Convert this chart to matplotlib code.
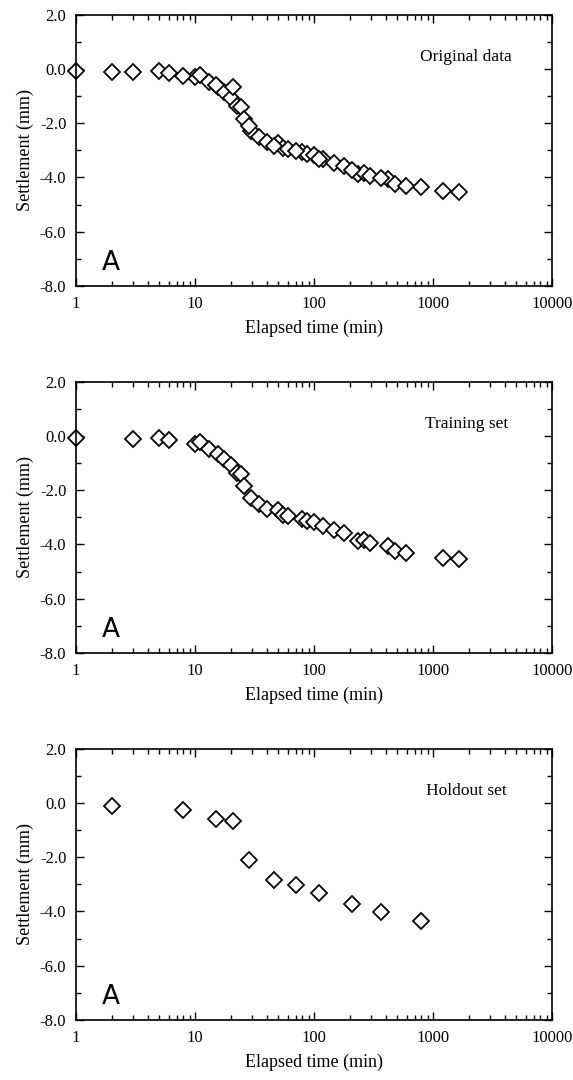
import numpy as np
import matplotlib
matplotlib.use("Agg")
import matplotlib.pyplot as plt
from matplotlib.ticker import FixedLocator, FuncFormatter, LogLocator, NullFormatter

plt.rcParams["font.family"] = ["Liberation Serif", "DejaVu Serif"]
plt.rcParams["axes.unicode_minus"] = False

# training set (elapsed time in min, settlement in mm)
train_t = [1, 3, 5, 6, 10, 11, 13, 15.5, 17.7, 20, 22.5, 24.5, 25.7, 29.5, 34.5,
           40, 50, 55, 60, 79, 88, 100, 120, 148, 180, 234, 262, 298, 415, 475,
           595, 1205, 1670]
train_s = [-0.06, -0.11, -0.09, -0.15, -0.30, -0.22, -0.47, -0.67, -0.85, -1.08,
           -1.36, -1.40, -1.83, -2.27, -2.50, -2.68, -2.72, -2.90, -2.96, -3.06,
           -3.12, -3.16, -3.33, -3.45, -3.58, -3.86, -3.82, -3.93, -4.06, -4.24,
           -4.32, -4.51, -4.55]

# holdout set
hold_t = [2, 8, 15, 21, 28.5, 46, 71, 111, 210, 365, 800]
hold_s = [-0.10, -0.25, -0.60, -0.66, -2.10, -2.83, -3.01, -3.31, -3.71, -4.02, -4.36]

# original data = training + holdout
orig_t = train_t + hold_t
orig_s = train_s + hold_s

panels = [
    ("Original data", orig_t, orig_s, 0.7352),
    ("Training set", train_t, train_s, 0.3954),
    ("Holdout set", hold_t, hold_s, 0.0556),
]

fig = plt.figure(figsize=(5.73, 10.8), dpi=100)

for title, t, s, bottom in panels:
    ax = fig.add_axes([0.1326, bottom, 0.8307, 0.2512])
    ax.plot(t, s, linestyle="none", marker="D", markersize=7.8, clip_on=False,
            markerfacecolor="white", markeredgecolor="black", markeredgewidth=1.3)
    ax.set_xscale("log")
    ax.set_xlim(1, 10000)
    ax.set_ylim(-8, 2)

    ax.xaxis.set_major_locator(FixedLocator([1, 10, 100, 1000, 10000]))
    ax.xaxis.set_major_formatter(FuncFormatter(lambda v, p: "%d" % v))
    ax.xaxis.set_minor_locator(LogLocator(base=10, subs=np.arange(2, 10), numticks=20))
    ax.xaxis.set_minor_formatter(NullFormatter())
    ax.yaxis.set_major_locator(FixedLocator(np.arange(-8, 2.1, 2)))
    ax.yaxis.set_minor_locator(FixedLocator(np.arange(-7, 2, 2)))
    ax.yaxis.set_major_formatter(FuncFormatter(lambda v, p: "%.1f" % v))

    ax.tick_params(which="both", direction="in", top=True, right=True, width=1.0,
                   labelsize=12, colors="black")
    ax.tick_params(which="major", length=6, pad=7)
    ax.tick_params(which="minor", length=3.5)
    for sp in ax.spines.values():
        sp.set_linewidth(1.2)

    ax.set_xlabel("Elapsed time (min)", fontsize=13, labelpad=6)
    ax.set_ylabel("Settlement (mm)", fontsize=13, labelpad=4)

    ax.text(0.82, 0.845, title, transform=ax.transAxes, fontsize=12.5,
            ha="center", va="center")
    ax.text(0.055, 0.085, "A", transform=ax.transAxes, fontsize=19,
            ha="left", va="center", family=["DejaVu Sans"])

fig.savefig("out.png", dpi=100)
plt.close()
